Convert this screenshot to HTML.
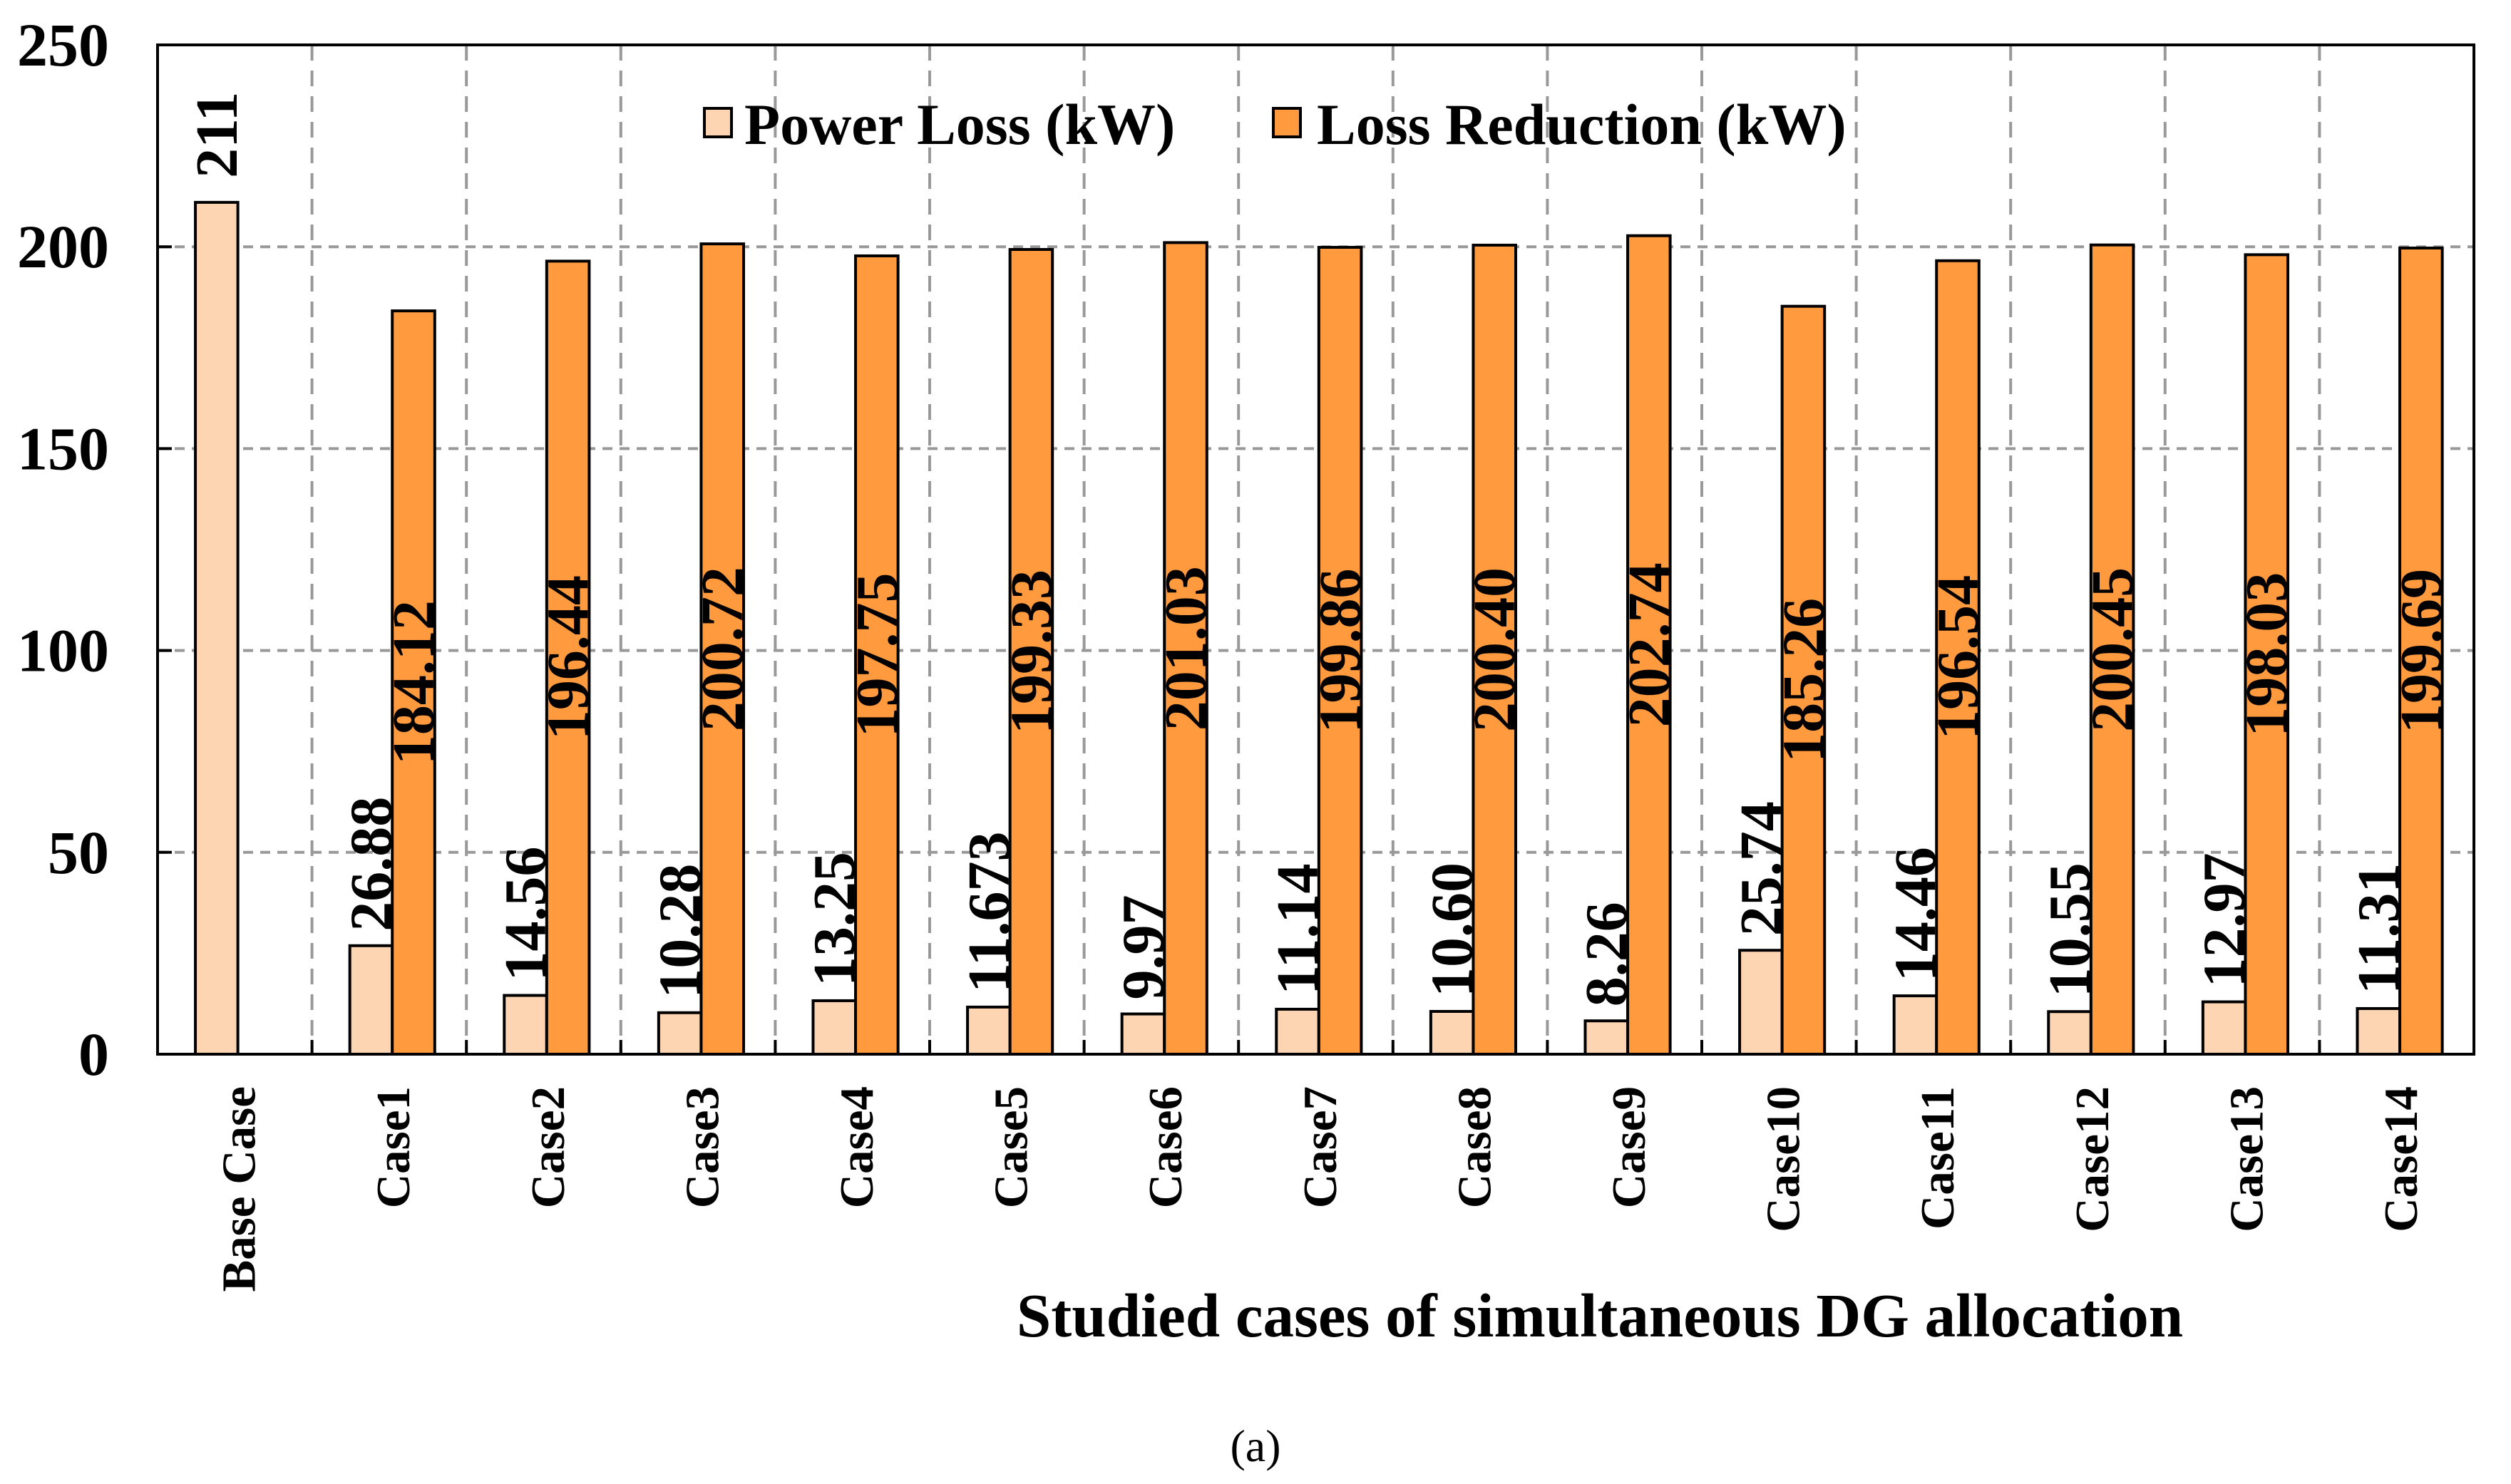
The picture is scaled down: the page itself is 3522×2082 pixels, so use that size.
<!DOCTYPE html>
<html><head><meta charset="utf-8">
<style>
html,body{margin:0;padding:0;background:#fff;}
svg{display:block;}
text{font-family:"Liberation Serif",serif;font-weight:bold;fill:#000;}
</style></head>
<body>
<svg id="chart" width="3522" height="2082" viewBox="0 0 3522 2082" xmlns="http://www.w3.org/2000/svg">
  <rect x="0" y="0" width="3522" height="2082" fill="#fff"/>
  <g id="grid"></g>
  <g id="bars"></g>
  <g id="labels"></g>
  <rect x="221" y="63" width="3249" height="1416" fill="none" stroke="#000" stroke-width="4"/>
  <g id="yticks"></g>
  <g id="xticks"></g>
  <g>
    <rect x="988" y="152" width="38" height="40" fill="#FDD5B2" stroke="#000" stroke-width="4"/>
    <text x="1044" y="202" font-size="82">Power Loss (kW)</text>
    <rect x="1786" y="152" width="38" height="40" fill="#FF9A3E" stroke="#000" stroke-width="4"/>
    <text x="1847" y="202" font-size="82">Loss Reduction (kW)</text>
  </g>
  <text x="2244" y="1875" font-size="87" text-anchor="middle">Studied cases of simultaneous DG allocation</text>
  <text x="1761" y="2050" font-size="64" text-anchor="middle" style="font-weight:normal">(a)</text>
</svg>
<script>
const categories = ["Base Case","Case1","Case2","Case3","Case4","Case5","Case6","Case7","Case8","Case9","Case10","Case11","Case12","Case13","Case14"];
const powerLoss = [211,26.88,14.56,10.28,13.25,11.673,9.97,11.14,10.60,8.26,25.74,14.46,10.55,12.97,11.31];
const powerLossLabels = ["211","26.88","14.56","10.28","13.25","11.673","9.97","11.14","10.60","8.26","25.74","14.46","10.55","12.97","11.31"];
const lossReduction = [null,184.12,196.44,200.72,197.75,199.33,201.03,199.86,200.40,202.74,185.26,196.54,200.45,198.03,199.69];
const lossReductionLabels = ["","184.12","196.44","200.72","197.75","199.33","201.03","199.86","200.40","202.74","185.26","196.54","200.45","198.03","199.69"];
const yTicks = [0,50,100,150,200,250];

const NS = "http://www.w3.org/2000/svg";
const L = 221, R = 3470, T = 63, B = 1479, YMAX = 250;
const gw = (R - L) / categories.length;
function y(v){ return B - (v / YMAX) * (B - T); }
function gx(i){ return L + i * gw; }
function mk(tag, attrs, parent){
  const e = document.createElementNS(NS, tag);
  for (const k in attrs) e.setAttribute(k, attrs[k]);
  parent.appendChild(e);
  return e;
}
const grid = document.getElementById('grid');
const bars = document.getElementById('bars');
const labels = document.getElementById('labels');
const yt = document.getElementById('yticks');
const xt = document.getElementById('xticks');

yTicks.forEach(v => {
  if (v > 0 && v < YMAX) {
    const gl = mk('line', {x1:L, x2:R, y1:y(v), y2:y(v), stroke:'#999', 'stroke-width':4, 'stroke-dasharray':'14 10'}, grid);
    
    
    const tk = mk('line', {x1:L, x2:L+20, y1:y(v), y2:y(v), stroke:'#000', 'stroke-width':4}, yt);
    
    
  }
  const t = mk('text', {x:153, y:y(v)+29, 'font-size':86, 'text-anchor':'end'}, yt);
  t.textContent = v;
  
  
});

categories.forEach((c, i) => {
  if (i > 0) {
    const gl = mk('line', {x1:gx(i), x2:gx(i), y1:T, y2:B, stroke:'#999', 'stroke-width':4, 'stroke-dasharray':'22 14'}, grid);
    
    
    const tk = mk('line', {x1:gx(i), x2:gx(i), y1:B-20, y2:B, stroke:'#000', 'stroke-width':4}, xt);
    
    
  }
  const x0 = gx(i) + 0.245 * gw, xm = gx(i) + 0.52 * gw, x1 = gx(i) + 0.795 * gw;
  const pl = powerLoss[i];
  const b1 = mk('rect', {x:x0, y:y(pl), width:xm-x0, height:B-y(pl), fill:'#FDD5B2', stroke:'#000', 'stroke-width':4}, bars);
  
  
  const cx1 = (x0 + xm) / 2 + 28, ly1 = y(pl) - (i === 0 ? 34 : 20);
  const t1 = mk('text', {x:cx1, y:ly1, 'font-size':84, transform:'rotate(-90 ' + cx1 + ' ' + ly1 + ')'}, labels);
  t1.textContent = powerLossLabels[i];
  
  
  const lr = lossReduction[i];
  if (lr !== null) {
    const b2 = mk('rect', {x:xm, y:y(lr), width:x1-xm, height:B-y(lr), fill:'#FF9A3E', stroke:'#000', 'stroke-width':4}, bars);
    
    
    const cx2 = (xm + x1) / 2 + 28, ly2 = y(lr / 2);
    const t2 = mk('text', {x:cx2, y:ly2, 'font-size':84, 'text-anchor':'middle', transform:'rotate(-90 ' + cx2 + ' ' + ly2 + ')'}, labels);
    t2.textContent = lossReductionLabels[i];
    
    
  }
  const cx = xm + 24, cy = 1524;
  const ct = mk('text', {x:cx, y:cy, 'font-size':67, 'text-anchor':'end', transform:'rotate(-90 ' + cx + ' ' + cy + ')'}, xt);
  ct.textContent = c;
  
  
});
</script>
</body></html>
